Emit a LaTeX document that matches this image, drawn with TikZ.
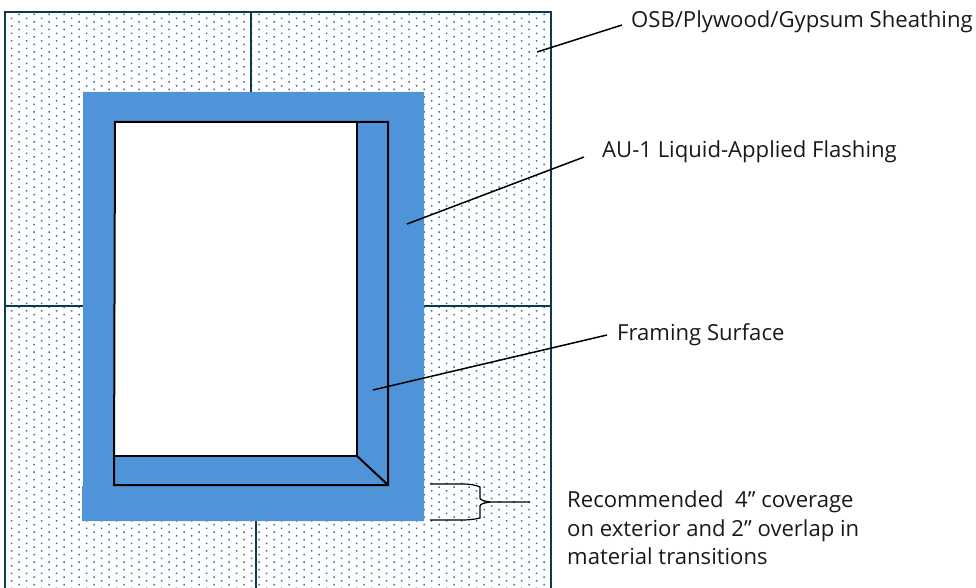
\documentclass[tikz,border=0pt]{standalone}
\usepackage{fontspec}
\setmainfont{Open Sans}
\usetikzlibrary{calc}
\definecolor{flashblue}{HTML}{4F94D8}
\definecolor{sheathline}{HTML}{0E3A4F}
\definecolor{sheathdot}{HTML}{2F7292}
\begin{document}
\begin{tikzpicture}[
      x=1pt,
      y=-1pt,
      sheath/.style={
                draw=sheathline,
                line width=1.6pt
                },
      frameline/.style={
                draw=black,
                line width=2pt
                },
      leader/.style={
                draw=black,
                line width=1.5pt
                },
      callout/.style={
                anchor=west,
                inner sep=0pt,
                font=\fontsize{22.1}{28.5}\selectfont,
                text=black!90
                }
]
\useasboundingbox (0,0) rectangle (976,588);

% dots of the sheathing
\fill[sheathdot]
  \foreach \col in {0,...,71} {
    \foreach \row in {0,...,76} {
      ({11.7+7.5*\col-0.75},{(mod(\col,2)==0 ? 18.3 : 14.5)+7.5*\row-0.75}) rectangle ++(1.5,1.5)
    }
  };

% panels
\draw[sheath] (5,588) -- (5,12) -- (551,12) -- (551,588);
\draw[sheath] (251,12) -- (251,92);
\draw[sheath] (5,306) -- (83,306);
\draw[sheath] (424,306) -- (551,306);
\draw[sheath] (256,520) -- (256,588);

% flashing
\fill[flashblue] (83,92) -| (424,521) -| (82,486) -| cycle;

% opening
\fill[white] (115,122) rectangle (357,456);
\draw[frameline] (115,122) -- (388,122) -- (388,485) -- (114,485) -- cycle;
\draw[frameline] (357,122) -- (357,456) -- (115,456);
\draw[frameline] (357,456) -- (388,485);

\node[callout] (osb) at (631,22) {OSB/Plywood/Gypsum Sheathing};
\node[callout] (au) at (602,152) {AU-1 Liquid-Applied Flashing};
\node[callout] (framing) at (617,335) {Framing Surface};
\node[callout, align=left] (coverage) at (567,528) {Recommended\ \ 4” coverage\\on exterior and 2” overlap in\\material transitions};

\coordinate (osbpoint) at (537,52);
\coordinate (aupoint) at (407,224);
\coordinate (framingpoint) at (373,390);
\coordinate (bracetip) at (530,502);

\draw[leader] (osbpoint) -- ([xshift=-9,yshift=-3]osb.west);
\draw[leader] (aupoint) -- ([xshift=-18,yshift=-5]au.west);
\draw[leader] (framingpoint) -- ([xshift=-10]framing.west);

% bracket
\draw[leader, line width=1.2pt] (430,484) -- (462,484) .. controls (470,484) and (476,485) .. (480,487)
  -- (480,498) .. controls (480,500) and (484,501) .. (490,502) -- (bracetip);
\draw[leader, line width=1.2pt] (430,520) -- (462,520) .. controls (470,520) and (476,519) .. (480,518)
  -- (480,506) .. controls (480,504) and (484,503) .. (490,502);

\end{tikzpicture}
\end{document}
